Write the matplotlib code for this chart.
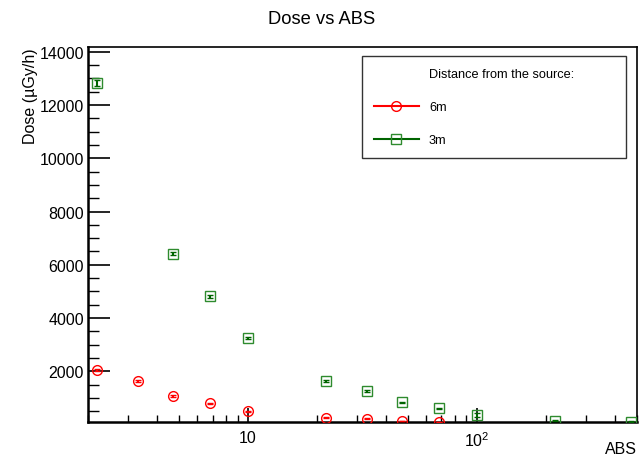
import numpy as np
import matplotlib.pyplot as plt
from matplotlib.lines import Line2D
from matplotlib.ticker import FixedLocator, MultipleLocator, FuncFormatter, LogLocator, NullFormatter

plt.rcParams['font.family'] = ['Liberation Sans', 'DejaVu Sans']

# 6m data
abs_6m = [2.2, 3.3, 4.7, 6.8, 10, 22, 33, 47, 68]
dose_6m = [2060, 1620, 1060, 800, 500, 260, 220, 130, 90]
err_6m = [40, 35, 30, 25, 20, 15, 12, 10, 8]

# 3m data
abs_3m = [2.2, 4.7, 6.8, 10, 22, 33, 47, 68, 100, 220, 470]
dose_3m = [12830, 6420, 4810, 3240, 1640, 1260, 840, 610, 360, 150, 110]
err_3m = [110, 60, 50, 40, 30, 25, 20, 15, 60, 8, 5]

red = '#ff0000'
green_mk = '#2e8b2e'
green_ln = '#006400'

fig = plt.figure(figsize=(6.44, 4.56), dpi=100)
ax = fig.add_axes([0.1366, 0.0724, 0.989 - 0.1366, 0.8947 - 0.0724])

ax.errorbar(abs_6m, dose_6m, yerr=err_6m, fmt='o', ms=7, mfc='none', mec=red, mew=1.0,
            ecolor=red, elinewidth=1.5, capsize=2, capthick=1.0, zorder=3)
ax.errorbar(abs_3m, dose_3m, yerr=err_3m, fmt='s', ms=7, mfc='none', mec=green_mk, mew=1.0,
            ecolor=green_ln, elinewidth=1.5, capsize=2, capthick=1.0, zorder=3)

ax.set_xscale('log')
ax.set_xlim(2.0, 500)
ax.set_ylim(95, 14180)

ax.yaxis.set_major_locator(FixedLocator([2000, 4000, 6000, 8000, 10000, 12000, 14000]))
ax.yaxis.set_minor_locator(MultipleLocator(500))
ax.xaxis.set_major_locator(FixedLocator([10, 100]))
ax.xaxis.set_minor_locator(LogLocator(base=10, subs=np.arange(2, 10)))
ax.xaxis.set_minor_formatter(NullFormatter())
ax.xaxis.set_major_formatter(FuncFormatter(
    lambda v, p: '10' if abs(v - 10) < 1e-6 else r'$\mathregular{10^{2}}$'))

ax.tick_params(axis='y', which='major', direction='in', length=16, width=1.2,
               labelsize=11.5, pad=3, right=False)
ax.tick_params(axis='y', which='minor', direction='in', length=8, width=1.0, right=False)
ax.tick_params(axis='x', which='major', direction='in', length=10, width=1.2,
               labelsize=11.5, pad=6, top=False)
ax.tick_params(axis='x', which='minor', direction='in', length=5, width=1.0, top=False)

for s in ['left', 'bottom']:
    ax.spines[s].set_linewidth(1.8)
for s in ['top', 'right']:
    ax.spines[s].set_linewidth(1.2)

ax.set_ylabel('Dose (\u00b5Gy/h)', fontsize=11.5, loc='top', labelpad=1)
ax.set_xlabel('ABS', fontsize=11.5, ha='right', va='top')
ax.xaxis.set_label_coords(1.0, -0.05)
fig.suptitle('Dose vs ABS', fontsize=13.2, y=0.975)

handles = [Line2D([], [], linestyle='none'),
           Line2D([], [], color=red, lw=1.5, marker='o', ms=7, mfc='none', mec=red),
           Line2D([], [], color=green_ln, lw=1.5, marker='s', ms=7, mfc='none', mec=green_mk)]
labels = ['Distance from the source:', '6m', '3m']
leg = ax.legend(handles, labels, loc='upper left', bbox_to_anchor=(0.499, 0.709, 0.481, 0.267),
                mode='expand', fontsize=9.2, frameon=True, fancybox=False, edgecolor='black',
                handlelength=3.5, handletextpad=0.8, labelspacing=1.65, borderpad=0.95,
                borderaxespad=0)
leg.get_frame().set_linewidth(1.0)

fig.savefig('out.png', dpi=100)
